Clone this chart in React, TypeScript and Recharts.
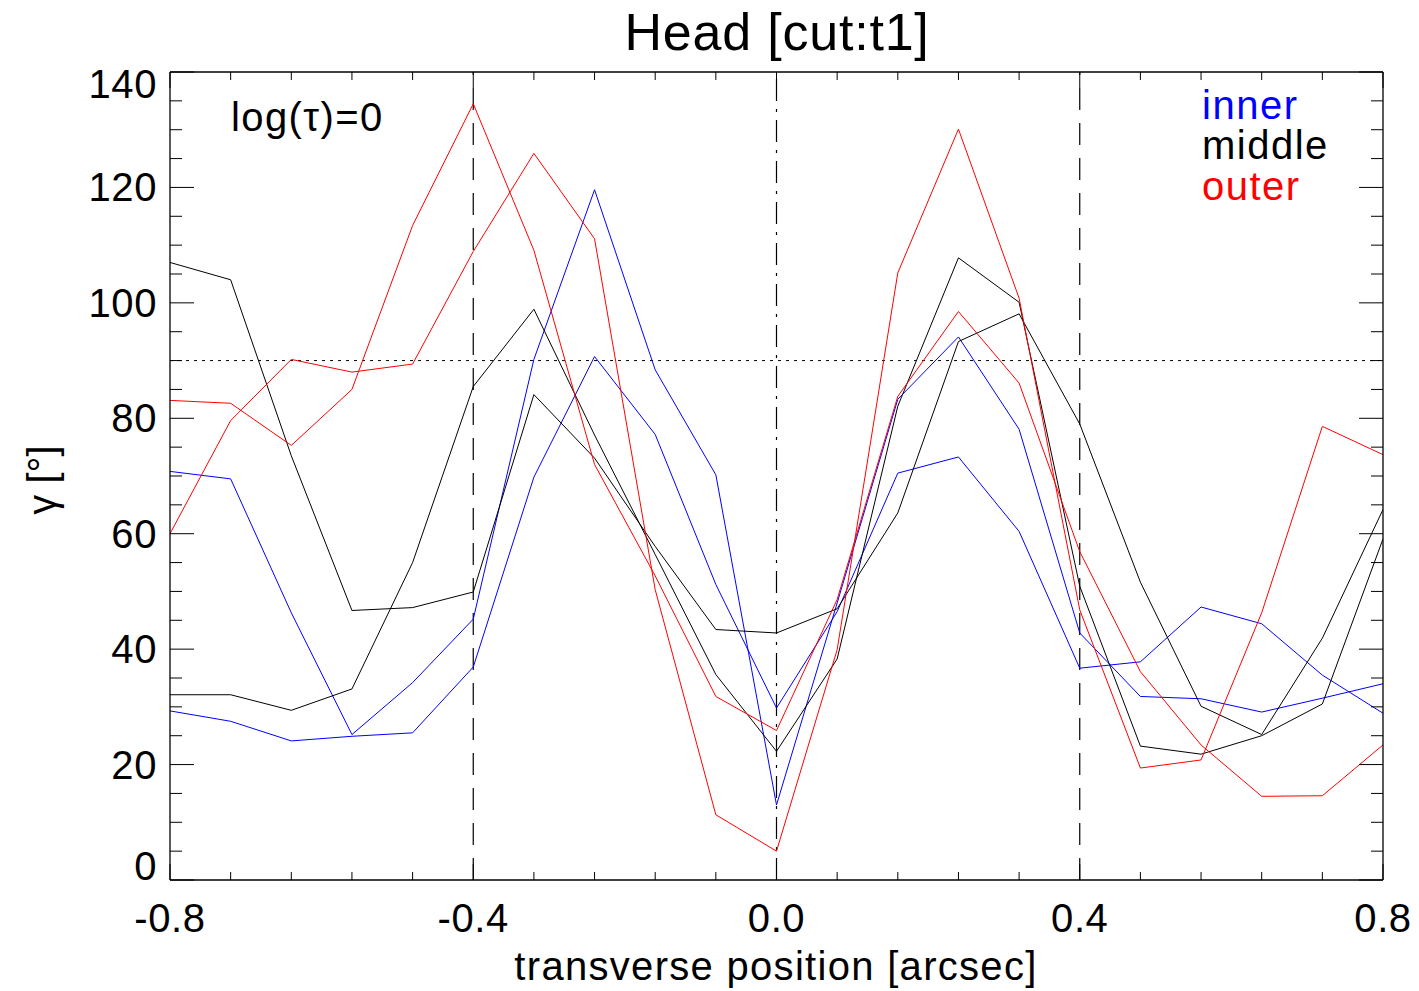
import React from 'react';
import { LineChart, Line, XAxis, YAxis, ReferenceLine } from 'recharts';

// transverse positions [arcsec]
const positions = [-0.8, -0.72, -0.64, -0.56, -0.48, -0.4, -0.32, -0.24, -0.16, -0.08, 0, 0.08, 0.16, 0.24, 0.32, 0.4, 0.48, 0.56, 0.64, 0.72, 0.8];

// gamma [deg], two cuts per region
const innerA = [70.8, 69.5, 46.3, 25.2, 34.2, 45.2, 90.2, 119.6, 88.4, 70.2, 13.0, 48.0, 83.3, 94.1, 78.1, 42.8, 31.8, 31.4, 29.1, 31.5, 34.0];
const innerB = [29.3, 27.5, 24.1, 24.9, 25.5, 36.9, 69.8, 90.7, 77.2, 51.2, 29.8, 46.5, 70.5, 73.3, 60.4, 36.7, 37.8, 47.3, 44.4, 35.5, 28.9];
const middleA = [107.0, 104.0, 73.5, 46.7, 47.2, 49.9, 84.1, 73.1, 57.8, 43.4, 42.8, 47.0, 63.6, 93.3, 98.1, 79.0, 51.6, 30.1, 25.2, 41.9, 64.2];
const middleB = [32.1, 32.1, 29.4, 33.1, 55.0, 85.5, 98.9, 77.1, 56.4, 35.6, 22.3, 38.3, 82.1, 107.8, 100.1, 50.9, 23.2, 21.8, 25.0, 30.5, 59.1];
const outerA = [83.1, 82.6, 75.3, 85.0, 113.4, 134.5, 109.1, 72.0, 52.7, 31.8, 25.9, 48.6, 83.8, 98.5, 86.1, 56.9, 36.1, 23.4, 14.5, 14.6, 23.4];
const outerB = [60.0, 79.6, 90.2, 88.0, 89.4, 108.9, 125.9, 111.1, 50.3, 11.3, 5.0, 39.9, 105.2, 130.1, 100.8, 46.8, 19.4, 20.8, 46.3, 78.6, 73.7];

const xMajorTicks = [-0.8, -0.4, 0, 0.4, 0.8];
const yMajorTicks = [0, 20, 40, 60, 80, 100, 120, 140];
const yMinorTicks = [0, 5, 10, 15, 20, 25, 30, 35, 40, 45, 50, 55, 60, 65, 70, 75, 80, 85, 90, 95, 100, 105, 110, 115, 120, 125, 130, 135, 140];

const data = positions.map((x, i) => ({
  x,
  innerA: innerA[i],
  innerB: innerB[i],
  middleA: middleA[i],
  middleB: middleB[i],
  outerA: outerA[i],
  outerB: outerB[i],
}));

const FONT = '"Liberation Sans", Arial, Helvetica, sans-serif';
const isMajorX = (v: number) => xMajorTicks.some((m) => Math.abs(m - v) < 1e-6);
const isMajorY = (v: number) => yMajorTicks.includes(v);

const BottomTick = (props: any) => {
  const { x, y, payload } = props;
  const major = isMajorX(payload.value);
  return (
    <g>
      <line x1={x} y1={y} x2={x} y2={y - (major ? 16 : 8)} stroke="#000" strokeWidth={1} />
      {major && (
        <text x={x} y={y + 52} textAnchor="middle" fontSize={40} letterSpacing={0.6} fontFamily={FONT} fill="#000">
          {payload.value.toFixed(1)}
        </text>
      )}
    </g>
  );
};

const TopTick = (props: any) => {
  const { x, y, payload } = props;
  const major = isMajorX(payload.value);
  return <line x1={x} y1={y} x2={x} y2={y + (major ? 16 : 8)} stroke="#000" strokeWidth={1} />;
};

const LeftTick = (props: any) => {
  const { x, y, payload } = props;
  const major = isMajorY(payload.value);
  let base = y + 14;
  if (payload.value === 140) base = y + 26;
  if (payload.value === 0) base = y;
  return (
    <g>
      <line x1={x} y1={y} x2={x + (major ? 24 : 12)} y2={y} stroke="#000" strokeWidth={1} />
      {major && (
        <text x={x - 13} y={base} textAnchor="end" fontSize={40} letterSpacing={0.6} fontFamily={FONT} fill="#000">
          {payload.value}
        </text>
      )}
    </g>
  );
};

const RightTick = (props: any) => {
  const { x, y, payload } = props;
  const major = isMajorY(payload.value);
  return <line x1={x} y1={y} x2={x - (major ? 24 : 12)} y2={y} stroke="#000" strokeWidth={1} />;
};

const App: React.FC = () => {
  return (
    <div style={{ position: 'absolute', left: 0, top: 0, width: 1419, height: 991, background: '#fff' }}>
      <LineChart width={1419} height={991} data={data} margin={{ top: 62, right: 26, bottom: 61, left: 70 }}>
        <XAxis
          dataKey="x"
          type="number"
          domain={[-0.8, 0.8]}
          ticks={positions}
          interval={0}
          allowDataOverflow
          height={50}
          tickSize={0}
          tickMargin={0}
          tick={BottomTick}
          tickLine={false}
          axisLine={{ stroke: '#000', strokeWidth: 1.3 }}
        />
        <XAxis
          xAxisId="top"
          orientation="top"
          dataKey="x"
          type="number"
          domain={[-0.8, 0.8]}
          ticks={positions}
          interval={0}
          allowDataOverflow
          height={10}
          tickSize={0}
          tickMargin={0}
          tick={TopTick}
          tickLine={false}
          axisLine={{ stroke: '#000', strokeWidth: 1.3 }}
        />
        <YAxis
          type="number"
          domain={[0, 140]}
          ticks={yMinorTicks}
          interval={0}
          allowDataOverflow
          width={100}
          tickSize={0}
          tickMargin={0}
          tick={LeftTick}
          tickLine={false}
          axisLine={{ stroke: '#000', strokeWidth: 1.3 }}
        />
        <YAxis
          yAxisId="right"
          orientation="right"
          type="number"
          domain={[0, 140]}
          ticks={yMinorTicks}
          interval={0}
          allowDataOverflow
          width={10}
          tickSize={0}
          tickMargin={0}
          tick={RightTick}
          tickLine={false}
          axisLine={{ stroke: '#000', strokeWidth: 1.3 }}
        />
        <ReferenceLine y={90} stroke="#000" strokeWidth={1} strokeDasharray="3 5" />
        <ReferenceLine x={-0.4} stroke="#000" strokeWidth={1.2} strokeDasharray="22 13" />
        <ReferenceLine x={0.4} stroke="#000" strokeWidth={1.2} strokeDasharray="22 13" />
        <ReferenceLine x={0} stroke="#000" strokeWidth={1.2} strokeDasharray="22 8 3 8" />
        <Line type="linear" dataKey="innerA" stroke="#0000ff" strokeWidth={1} dot={false} isAnimationActive={false} />
        <Line type="linear" dataKey="innerB" stroke="#0000ff" strokeWidth={1} dot={false} isAnimationActive={false} />
        <Line type="linear" dataKey="middleA" stroke="#000000" strokeWidth={1} dot={false} isAnimationActive={false} />
        <Line type="linear" dataKey="middleB" stroke="#000000" strokeWidth={1} dot={false} isAnimationActive={false} />
        <Line type="linear" dataKey="outerA" stroke="#ff0000" strokeWidth={1} dot={false} isAnimationActive={false} />
        <Line type="linear" dataKey="outerB" stroke="#ff0000" strokeWidth={1} dot={false} isAnimationActive={false} />
      </LineChart>
      <svg
        width={1419}
        height={991}
        style={{ position: 'absolute', left: 0, top: 0, pointerEvents: 'none' }}
        fontFamily={FONT}
      >
        <text x={777} y={50} textAnchor="middle" fontSize={52} letterSpacing={0.8} fill="#000">
          Head [cut:t1]
        </text>
        <text x={776} y={980} textAnchor="middle" fontSize={40} letterSpacing={1.3} fill="#000">
          transverse position [arcsec]
        </text>
        <text x={56} y={480} textAnchor="middle" fontSize={40} fill="#000" transform="rotate(-90 56 480)">
          γ [°]
        </text>
        <text x={231} y={131} fontSize={40} letterSpacing={1.4} fill="#000">
          log(τ)=0
        </text>
        <text x={1202} y={119} fontSize={40} letterSpacing={1.5} fill="#0000ff">
          inner
        </text>
        <text x={1202} y={159} fontSize={40} letterSpacing={1.5} fill="#000">
          middle
        </text>
        <text x={1202} y={200} fontSize={40} letterSpacing={1.5} fill="#ff0000">
          outer
        </text>
      </svg>
    </div>
  );
};

export default App;
